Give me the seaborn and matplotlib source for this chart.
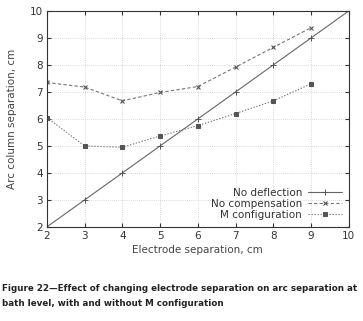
import matplotlib
matplotlib.use('Agg')
import matplotlib.pyplot as plt
import seaborn as sns
import pandas as pd

# values
sep = [2, 3, 4, 5, 6, 7, 8, 9]
no_deflection_x = [2, 3, 4, 5, 6, 7, 8, 9, 10]
no_deflection_y = [2, 3, 4, 5, 6, 7, 8, 9, 10]
no_compensation = [7.35, 7.18, 6.67, 6.98, 7.2, 7.92, 8.65, 9.38]
m_config = [6.05, 5.0, 4.95, 5.37, 5.75, 6.2, 6.67, 7.3]

sns.set_style('white')
plt.rcParams['font.family'] = ['DejaVu Sans']

fig = plt.figure(figsize=(3.63, 3.21), dpi=100)
ax = fig.add_axes([0.129, 0.293, 0.832, 0.673])

nd = pd.DataFrame({'x': no_deflection_x, 'y': no_deflection_y})
nc = pd.DataFrame({'x': sep, 'y': no_compensation})
mc = pd.DataFrame({'x': sep, 'y': m_config})

sns.lineplot(data=nd, x='x', y='y', ax=ax, color='#666666', lw=0.8,
             marker='+', markersize=4, mew=0.7, markeredgecolor='#555555',
             label='No deflection')
sns.lineplot(data=nc, x='x', y='y', ax=ax, color='#777777', lw=0.8,
             linestyle=(0, (3, 2)), marker='x', markersize=3.5, mew=0.8,
             markeredgecolor='#555555', label='No compensation')
sns.lineplot(data=mc, x='x', y='y', ax=ax, color='#777777', lw=0.8,
             linestyle=(0, (1.2, 1.5)), marker='s', markersize=2.3,
             markerfacecolor='#555555', markeredgecolor='#555555',
             label='M configuration')

ax.set_xlim(2, 10)
ax.set_ylim(2, 10)
ax.set_xticks(range(2, 11))
ax.set_yticks(range(2, 11))
ax.grid(True, color='#cccccc', linestyle=(0, (1, 1.5)), lw=0.6)
ax.tick_params(direction='in', length=3, labelsize=7.5, colors='#333333',
               top=True, right=True, bottom=True, left=True, pad=3)
for s in ax.spines.values():
    s.set_color('#333333')
    s.set_linewidth(0.8)
ax.set_xlabel('Electrode separation, cm', fontsize=7.5, color='#444444', labelpad=3)
ax.set_ylabel('Arc column separation, cm', fontsize=7.5, color='#444444', labelpad=9)

leg = ax.legend(loc='lower right', markerfirst=False, frameon=False,
                fontsize=7.5, handlelength=3.2, labelspacing=0.1, numpoints=1,
                borderaxespad=0.3, handletextpad=0.6)
for t in leg.get_texts():
    t.set_color('#333333')

fig.text(0.005, 0.04, 'Figure 22\u2014Effect of changing electrode separation on arc separation at\nbath level, with and without M configuration',
         fontsize=6.3, fontweight='bold', color='#222222', linespacing=1.9, va='bottom')

fig.savefig('out.png', dpi=100)
